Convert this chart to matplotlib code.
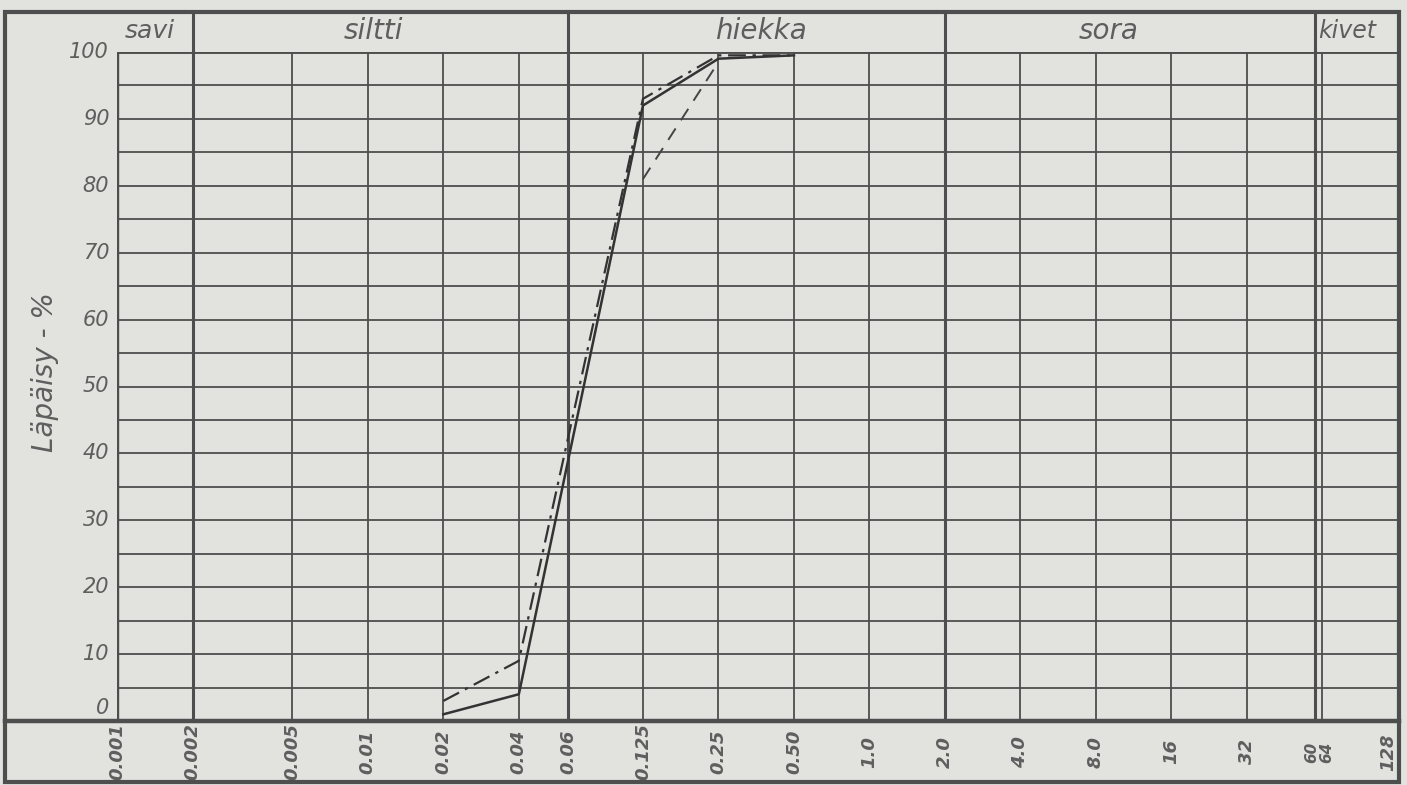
import numpy as np
import matplotlib.pyplot as plt
from matplotlib.lines import Line2D
from matplotlib.patches import Rectangle
from matplotlib.transforms import offset_copy

# grain size (mm) grid lines and labels
x_ticks = [0.001, 0.002, 0.005, 0.01, 0.02, 0.04, 0.063, 0.125, 0.25, 0.5,
           1.0, 2.0, 4.0, 8.0, 16, 32, 60, 64, 128]
x_labels = ['0.001', '0.002', '0.005', '0.01', '0.02', '0.04', '0.06', '0.125',
            '0.25', '0.50', '1.0', '2.0', '4.0', '8.0', '16', '32', '60', '64', '128']
y_labels = [0, 10, 20, 30, 40, 50, 60, 70, 80, 90, 100]

# soil fractions in the header
classes = ['savi', 'siltti', 'hiekka', 'sora', 'kivet']
class_bounds = [0.001, 0.002, 0.063, 2.0, 60, 128]

# three measured curves
d_solid = [0.02, 0.04, 0.125, 0.25, 0.5]
p_solid = [1, 4, 92, 99, 99.5]
d_dashdot = [0.02, 0.04, 0.125, 0.25, 0.5]
p_dashdot = [3, 9, 93, 99.5, 99.5]
d_dash = [0.125, 0.25]
p_dash = [81, 98.5]

W, H = 1407, 785
bg = '#e2e2df'
lc = '#4e4e4e'
tc = '#5e5e5e'


def fx(px):
    return px / W


def fy(py):
    return 1 - py / H


fig = plt.figure(figsize=(W / 100, H / 100), dpi=100, facecolor=bg)
ax = fig.add_axes([fx(117), fy(721), fx(1398) - fx(117), fy(52) - fy(721)])
ax.set_facecolor(bg)
ax.set_xscale('log', base=2)
ax.set_xlim(0.001, 128)
ax.set_ylim(0, 100)
for s in ax.spines.values():
    s.set_visible(False)
ax.set_xticks([])
ax.set_yticks([])
ax.minorticks_off()

# grid
for v in np.arange(5, 100, 5):
    ax.axhline(v, color=lc, lw=1.3, zorder=1)
for v in x_ticks:
    w = 2.2 if v in class_bounds else 1.3
    ax.axvline(v, color=lc, lw=w, zorder=1)
ax.axhline(100, color=lc, lw=2.8, zorder=1)
ax.axvline(0.001, color=lc, lw=2.4, zorder=1)

# curves
ax.plot(d_solid, p_solid, color='#333333', lw=1.8, zorder=3)
ax.plot(d_dashdot, p_dashdot, color='#333333', lw=1.6, ls=(0, (8, 3, 1.5, 3)), zorder=3)
ax.plot(d_dash, p_dash, color='#444444', lw=1.4, ls=(0, (7, 5)), zorder=3)

# header cells
top = (721 - 12) / (721 - 52)
trans = ax.get_xaxis_transform()
for b in class_bounds[1:-1]:
    ax.plot([b, b], [1, top], color=lc, lw=2.2, transform=trans, clip_on=False)
hfont = dict(style='italic', color=tc, transform=trans, va='center')
ty = 1 + (top - 1) * 0.52
ax.text(0.00107, ty, classes[0], ha='left', fontsize=18, **hfont)
ax.text(0.0105, ty, classes[1], ha='center', fontsize=20, **hfont)
ax.text(0.37, ty, classes[2], ha='center', fontsize=20, **hfont)
ax.text(9.0, ty, classes[3], ha='center', fontsize=20, **hfont)
ax.text(61.5, ty, classes[4], ha='left', fontsize=17, **hfont)

# x labels (rotated, below the axis); 60/64 pushed apart, 128 kept inside frame
shift = {'60': -4, '64': 4, '128': -10}
for v, lab in zip(x_ticks, x_labels):
    tr = offset_copy(trans, fig=fig, x=shift.get(lab, 0), y=0, units='dots')
    fs = 11 if lab in ('60', '64') else 13
    ax.text(v, -(752 - 721) / (721 - 52), lab, rotation=90, ha='center', va='center',
            fontsize=fs, style='italic', fontweight='bold', color=tc,
            transform=tr, clip_on=False)

# y labels
for v in y_labels:
    ax.text(0.00093, v + (2 if v == 0 else 0), str(v), ha='right', va='center',
            fontsize=15, style='italic', color=tc, clip_on=False)

fig.text(fx(45), fy(372), 'Läpäisy - %', rotation=90, ha='center', va='center',
         fontsize=20, style='italic', color=tc)

# outer frame and bottom line across the margin
fig.add_artist(Rectangle((fx(5), fy(782)), fx(1399) - fx(5), fy(12) - fy(782),
                         transform=fig.transFigure, fill=False, ec=lc, lw=3))
fig.add_artist(Line2D([fx(5), fx(1399)], [fy(721), fy(721)],
                      transform=fig.transFigure, color=lc, lw=3.2))

fig.savefig('out.png', dpi=100, facecolor=bg)
